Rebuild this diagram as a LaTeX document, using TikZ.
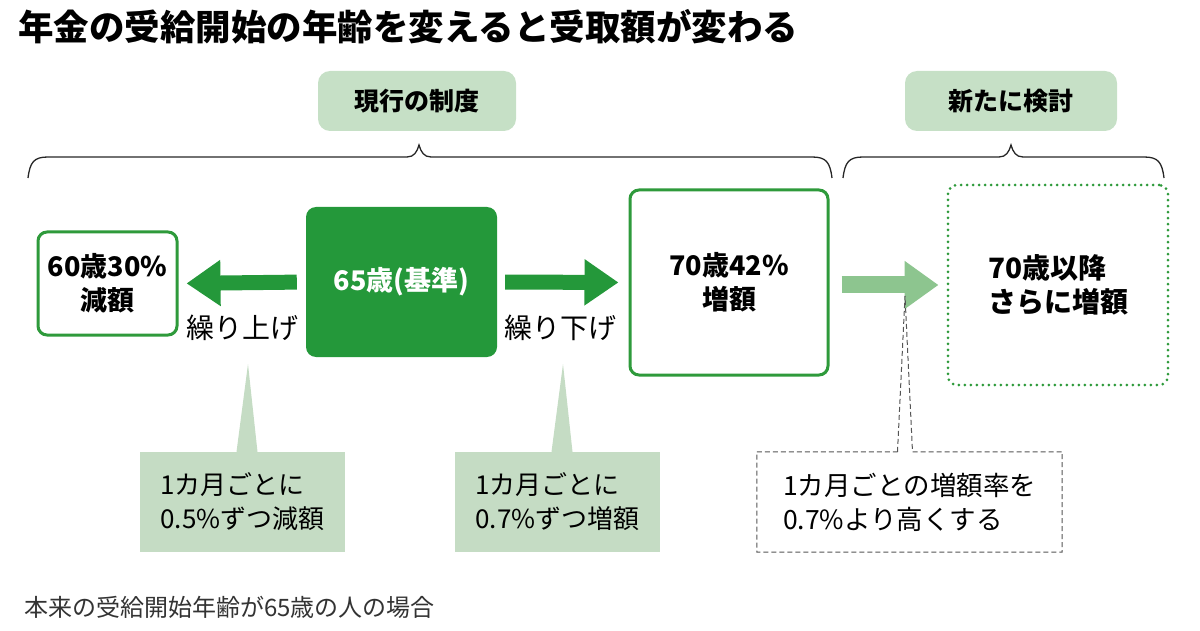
\documentclass[tikz,border=0pt]{standalone}
\usepackage{fontspec}
\setmainfont{Noto Sans CJK JP}
\usetikzlibrary{arrows.meta,calc}
\definecolor{dg}{HTML}{24983A}
\definecolor{bg}{HTML}{2E9A3B}
\definecolor{tagfill}{HTML}{C6E0C6}
\definecolor{cfill}{HTML}{C5DCC4}
\definecolor{lgarrow}{HTML}{8DC58F}
\definecolor{dashgray}{HTML}{555555}
\definecolor{foot}{HTML}{333333}
\begin{document}
\begin{tikzpicture}[x=1pt,y=-1pt,
  titlefont/.style={font=\fontsize{35.5}{40}\selectfont\bfseries},
  tag/.style={fill=tagfill, rounded corners=12pt, inner sep=0pt, font=\fontsize{25}{30}\selectfont\bfseries},
  gbox/.style={draw=bg, line width=3pt, fill=white, rounded corners=9pt, align=center, inner sep=0pt, font=\fontsize{27}{34}\selectfont\bfseries},
  cbox/.style={fill=dg, rounded corners=10pt, text=white, align=center, inner sep=0pt, font=\fontsize{27}{34}\selectfont\bfseries},
  dbox/.style={draw=bg, line width=3pt, dash pattern=on 0pt off 6pt, line cap=round, fill=white, rounded corners=9pt, align=left, inner sep=0pt, font=\fontsize{28}{34}\selectfont\bfseries},
  lbl/.style={font=\fontsize{28}{32}\selectfont, inner sep=0pt},
  callout/.style={fill=cfill, align=left, inner sep=0pt, font=\fontsize{26}{34}\selectfont},
  dcallout/.style={fill=white, align=left, inner sep=0pt, font=\fontsize{26.5}{34}\selectfont},
  bigarrow/.style={draw=dg, line width=15pt, -{Triangle[width=44pt,length=34pt]}},
  lightarrow/.style={draw=lgarrow, line width=17pt, -{Triangle[width=46pt,length=34pt]}},
  bracestyle/.style={draw=black!85, line width=1.3pt},
  dsh/.style={draw=dashgray, line width=1pt, dash pattern=on 5pt off 3pt}
]
\useasboundingbox (0,0) rectangle (1200,631);

% title
\node[titlefont, anchor=west, inner sep=0pt] (title) at (18,27) {年金の受給開始の年齢を変えると受取額が変わる};

% tags
\node[tag, minimum width=198pt, minimum height=60pt] (tagA) at (417,101) {現行の制度};
\node[tag, minimum width=212pt, minimum height=60pt] (tagB) at (1011,101) {新たに検討};

% braces
\draw[bracestyle] (28,178) .. controls (30,162) and (34,157) .. (48,157) -- (407,157)
  .. controls (414,157) and (417,152) .. (419,145) .. controls (421,152) and (424,157) .. (431,157)
  -- (812,157) .. controls (826,157) and (830,162) .. (832,178);
\draw[bracestyle] (843,178) .. controls (845,162) and (849,157) .. (863,157) -- (999,157)
  .. controls (1006,157) and (1009,152) .. (1011,145) .. controls (1013,152) and (1016,157) .. (1023,157)
  -- (1144,157) .. controls (1158,157) and (1162,162) .. (1164,178);

% main boxes
\node[gbox, minimum width=139pt, minimum height=103pt] (b60) at (107.5,283.5) {60歳30\%\\減額};
\node[cbox, minimum width=191pt, minimum height=150pt] (b65) at (401.5,282) {65歳(基準)};
\node[gbox, minimum width=198pt, minimum height=185pt] (b70) at (729,282.5) {70歳42\%\\増額};
\node[dbox, minimum width=220pt, minimum height=200pt] (bnew) at (1058,285) {70歳以降\\さらに増額};

% arrows
\draw[bigarrow, shorten <=9pt, shorten >=8pt] (b65.west) -- (b60.east);
\draw[bigarrow, shorten <=8pt, shorten >=10pt] (b65.east) -- (b70.west);
\draw[lightarrow, shorten <=12pt, shorten >=8pt] (b70.east |- bnew.west) -- (bnew.west);

% arrow labels
\node[lbl] (up) at (242,328) {繰り上げ};
\node[lbl] (down) at (560,328) {繰り下げ};

% callouts
\node[callout, minimum width=205pt, minimum height=100pt] (c1) at (242.5,502) {1カ月ごとに\\0.5\%ずつ減額};
\coordinate (t1) at (248,364);
\fill[cfill] (t1) -- ([xshift=-6pt]c1.north) -- ([xshift=15pt]c1.north) -- cycle;

\node[callout, minimum width=205pt, minimum height=100pt] (c2) at (557.5,502) {1カ月ごとに\\0.7\%ずつ増額};
\coordinate (t2) at (563,364);
\fill[cfill] (t2) -- ([xshift=-6pt]c2.north) -- ([xshift=15pt]c2.north) -- cycle;

\node[dcallout, minimum width=305pt, minimum height=100pt] (c3) at (909.5,502) {1カ月ごとの増額率を\\0.7\%より高くする};
\coordinate (t3) at (905,296);
\draw[dsh] ([xshift=-12pt]c3.north) -- (t3) -- ([xshift=3pt]c3.north) -- (c3.north east) -- (c3.south east) -- (c3.south west) -- (c3.north west) -- cycle;

% footnote
\node[anchor=west, inner sep=0pt, text=foot, font=\fontsize{24}{28}\selectfont] (note) at (24,607) {本来の受給開始年齢が65歳の人の場合};
\end{tikzpicture}
\end{document}
